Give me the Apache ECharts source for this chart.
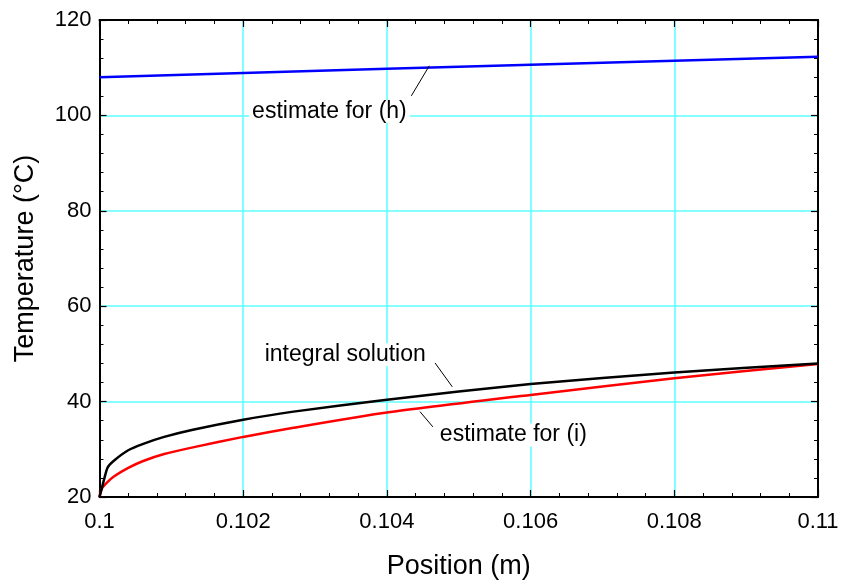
<!DOCTYPE html>
<html lang="en">
<head>
  <meta charset="UTF-8" />
  <title>Temperature vs position</title>
  <script src="https://cdn.jsdelivr.net/npm/echarts@6.0.0/dist/echarts.min.js"></script>
  <style>
    html, body { margin: 0; padding: 0; background: #fff; }
    #chart { width: 842px; height: 580px; }
  </style>
</head>
<body>
  <div id="chart"></div>
  <script>
    // position (m)
    var positions = [0.1, 0.10003, 0.10011, 0.1002, 0.1004, 0.1006, 0.1009, 0.1013, 0.102, 0.1027, 0.104, 0.106, 0.108, 0.11];
    // integral solution (black)
    var integralTemps = [20, 21.7, 26.1, 27.6, 29.8, 31.1, 32.6, 34.1, 36.2, 37.9, 40.4, 43.7, 46.1, 48.0];
    // estimate for (i) (red)
    var estimateITemps = [20, 21.7, 23.1, 24.3, 26.1, 27.5, 29.0, 30.4, 32.6, 34.5, 37.7, 41.4, 44.9, 47.9];
    // estimate for (h) (blue)
    var hPositions = [0.1, 0.104, 0.11];
    var estimateHTemps = [108.0, 109.8, 112.3];

    var xTicks = [0.1, 0.102, 0.104, 0.106, 0.108, 0.11];
    var yTicks = [20, 40, 60, 80, 100, 120];

    // annotation texts, where they sit, and their leader lines
    var noteTexts = ['estimate for (h)', 'integral solution', 'estimate for (i)'];
    var notePos = [[0.10320, 100.8], [0.10342, 49.8], [0.10576, 33.0]];
    var leaderFrom = [[0.10434, 104.1], [0.10467, 48.1], [0.10446, 37.9]];
    var leaderTo = [[0.10459, 110.4], [0.10491, 43.1], [0.10464, 34.7]];

    var font = 'Liberation Sans, Arial, sans-serif';

    function zip(xs, ys) {
      return xs.map(function (x, i) { return [x, ys[i]]; });
    }

    var chart = echarts.init(document.getElementById('chart'));

    var axisCommon = {
      axisLine: { show: true, onZero: false, lineStyle: { color: '#000', width: 2 } },
      axisTick: { show: true, inside: true, length: 7, lineStyle: { color: '#000', width: 1.2 } },
      minorTick: { show: true, splitNumber: 5, length: 4, lineStyle: { color: '#000', width: 1 } }
    };
    var gridLine = { show: true, lineStyle: { color: '#5fffff', width: 1.6 } };

    chart.setOption({
      animation: false,
      backgroundColor: '#fff',
      grid: { left: 99.5, right: 24, top: 20, bottom: 83, outerBoundsMode: 'none', containLabel: false },
      xAxis: [
        Object.assign({
          type: 'value',
          position: 'bottom',
          min: xTicks[0],
          max: xTicks[xTicks.length - 1],
          interval: 0.002,
          name: 'Position (m)',
          nameLocation: 'middle',
          nameGap: 56,
          nameTextStyle: { fontFamily: font, fontSize: 27, color: '#000' },
          axisLabel: {
            fontFamily: font, fontSize: 22, color: '#000', margin: 14,
            formatter: function (v) { return String(parseFloat(v.toFixed(3))); }
          },
          splitLine: gridLine
        }, axisCommon),
        Object.assign({
          type: 'value',
          position: 'top',
          min: xTicks[0],
          max: xTicks[xTicks.length - 1],
          interval: 0.002,
          axisLabel: { show: false },
          splitLine: { show: false }
        }, axisCommon)
      ],
      yAxis: [
        Object.assign({
          type: 'value',
          position: 'left',
          min: yTicks[0],
          max: yTicks[yTicks.length - 1],
          interval: 20,
          name: 'Temperature (°C)',
          nameLocation: 'middle',
          nameGap: 60,
          nameTextStyle: { fontFamily: font, fontSize: 27, color: '#000' },
          axisLabel: { fontFamily: font, fontSize: 22, color: '#000', margin: 8 },
          splitLine: gridLine
        }, axisCommon),
        Object.assign({
          type: 'value',
          position: 'right',
          min: yTicks[0],
          max: yTicks[yTicks.length - 1],
          interval: 20,
          axisLabel: { show: false },
          splitLine: { show: false }
        }, axisCommon)
      ],
      series: [
        {
          name: 'estimate for (h)',
          type: 'line',
          data: zip(hPositions, estimateHTemps),
          showSymbol: false,
          lineStyle: { color: '#0000ff', width: 2.5 },
          z: 3
        },
        {
          name: 'estimate for (i)',
          type: 'line',
          data: zip(positions, estimateITemps),
          showSymbol: false,
          smooth: 0.2,
          lineStyle: { color: '#ff0000', width: 2.5 },
          z: 3
        },
        {
          name: 'integral solution',
          type: 'line',
          data: zip(positions, integralTemps),
          showSymbol: false,
          smooth: 0.2,
          lineStyle: { color: '#000', width: 2.5 },
          z: 4
        },
        {
          name: 'notes',
          type: 'scatter',
          symbolSize: 0,
          silent: true,
          z: 5,
          itemStyle: { opacity: 1 },
          data: notePos.map(function (p, i) { return [p[0], p[1], noteTexts[i]]; }),
          label: {
            show: true,
            position: 'inside',
            formatter: function (p) { return p.data[2]; },
            fontFamily: font,
            fontSize: 23,
            color: '#000',
            opacity: 1,
            backgroundColor: '#fff',
            padding: [0, 3]
          },
          markLine: {
            silent: true,
            symbol: 'none',
            label: { show: false },
            lineStyle: { color: '#000', width: 1, type: 'solid' },
            data: leaderFrom.map(function (a, i) {
              return [{ coord: a }, { coord: leaderTo[i] }];
            })
          }
        }
      ]
    });
  </script>
</body>
</html>
